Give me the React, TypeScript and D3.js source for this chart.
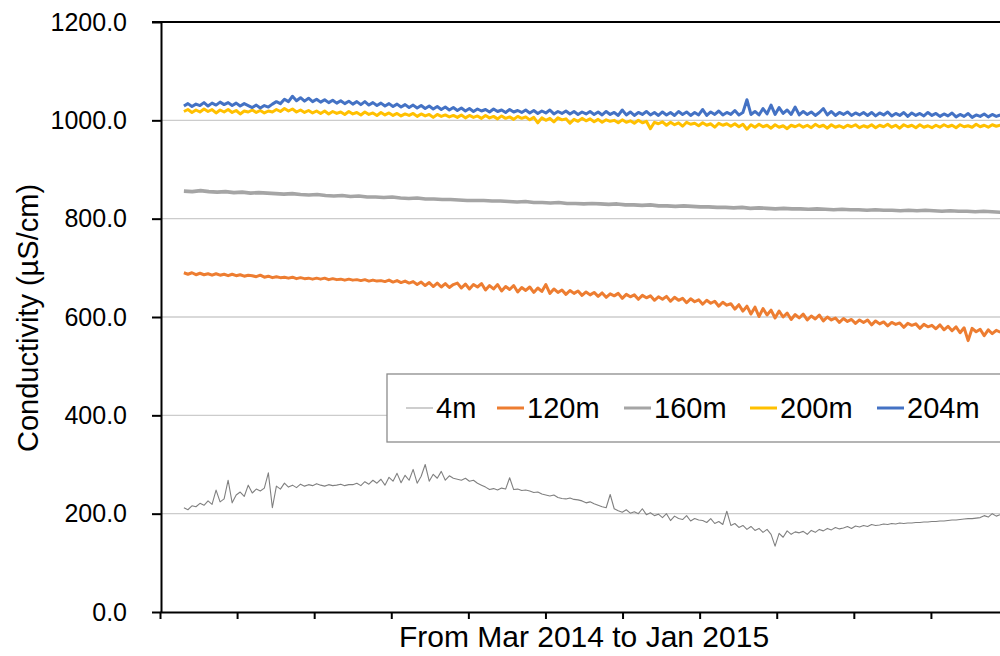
import React, { useRef, useEffect } from 'react';
import * as d3 from 'd3';

// axis + labels
const yTicks = [0, 200, 400, 600, 800, 1000, 1200];
const xTicks = [0, 1, 2, 3, 4, 5, 6, 7, 8, 9, 10, 11];
const xTitle = "From Mar 2014 to Jan 2015";
const yTitle = "Conductivity (µS/cm)";

const seriesNames = ["4m", "120m", "160m", "200m", "204m"];
const seriesColors = ["#808080", "#ED7D31", "#A5A5A5", "#FFC000", "#4472C4"];
const seriesWidths = [1.1, 3, 3.6, 3, 3];

// first and last sample, in month units of the x axis
const dataStart = 0.31;
const dataEnd = 10.9;

// evenly spaced in time
const d4m = [
  212, 208, 216, 214, 221, 217, 226, 219, 248, 224, 230, 268, 222, 238, 244, 235, 258, 242, 250, 246,
  252, 283, 212, 256, 250, 262, 254, 258, 253, 260, 256, 259, 257, 261, 258, 256, 259, 257, 258, 260, 257, 259,
  259, 262, 257, 265, 260, 268, 262, 270, 258, 274, 266, 282, 263, 278, 268, 290, 262, 276, 300, 266, 280, 272, 286, 268, 277, 272, 270, 268, 272, 266, 268, 262,
  258, 254, 249, 251, 248, 252, 250, 273, 249, 250, 247, 248, 246, 243, 244, 240, 238, 236, 238, 233, 231, 230, 232, 229, 228, 226, 222, 224, 220, 217,
  214, 212, 239, 210, 206, 203, 208, 201, 204, 200, 210, 198, 202, 196, 199, 192, 200, 186, 195, 190, 188, 196, 185, 190, 187,
  186, 182, 190, 180, 184, 178, 205, 176, 180, 172, 176, 168, 174, 166, 170, 162, 168, 158, 134, 160, 152, 165, 158, 163, 161,
  164, 158, 166, 162, 168, 165, 170, 167, 172, 169, 171, 174, 170, 175, 173, 176, 174, 178, 176, 177, 179, 178, 180, 179, 181,
  180, 181, 181, 182, 182, 183, 183, 184, 184, 185, 185, 186, 187, 187, 188, 189, 190, 190, 191, 192, 196, 193, 200, 195, 198
];

const d120m = [
  690, 687, 690, 686, 689, 686, 688, 685, 688, 685, 687, 684, 687, 684, 686, 683, 685,
  684, 682, 685, 681, 683, 680, 682, 680, 681, 679, 681, 678, 680, 678, 679, 677, 679,
  677, 679, 676, 678, 676, 677, 675, 677, 675, 676, 674, 676, 673, 675, 673, 674, 672,
  675, 671, 674, 670, 673, 669, 672, 666, 671, 664, 670, 662, 669, 661, 668, 660, 666,
  669, 659, 667, 657, 666, 661, 668, 655, 664, 657, 666, 653, 662, 656, 664, 651, 660,
  654, 661, 650, 659, 652, 666, 648, 657, 650, 655, 646, 654, 648, 653, 644, 651, 645,
  650, 642, 649, 640, 647, 643, 648, 638, 646, 641, 645, 636, 644, 639, 643, 634, 641,
  636, 642, 632, 640, 634, 638, 629, 637, 631, 635, 626, 634, 628, 632, 622, 630, 624,
  627, 616, 625, 612, 622, 606, 620, 601, 617, 604, 614, 598, 612, 600, 608, 595, 605,
  598, 606, 594, 602, 596, 604, 592, 600, 594, 598, 589, 597, 591, 595, 587, 594, 589,
  594, 584, 592, 586, 590, 582, 589, 585, 588, 579, 587, 583, 586, 577, 585, 580, 583,
  576, 584, 574, 581, 572, 580, 568, 578, 552, 577, 570, 575, 562, 574, 566, 573, 569
];

const d160m = [
  856, 855, 857, 855, 854, 855, 853, 854, 852, 853,
  852, 851, 850, 851, 849, 848, 849, 847, 846, 847, 845, 846, 844,
  844, 843, 844, 842, 841, 842, 840, 840, 839, 839, 838, 837, 837,
  837, 836, 836, 835, 834, 835, 833, 833, 832, 833, 831, 831, 830,
  831, 830, 829, 830, 828, 828, 827, 828, 826, 826, 825, 826, 825,
  824, 824, 823, 823, 822, 823, 821, 822, 821, 820, 821, 820, 820,
  819, 820, 819, 818, 819, 818, 818, 817, 818, 817, 817, 816, 817,
  816, 817, 816, 815, 816, 815, 815, 814, 815, 814, 813
];

const d200m = [
  1018, 1022, 1016, 1021, 1017, 1023, 1018, 1022, 1015, 1021, 1017, 1022, 1016, 1020, 1013, 1019, 1017,
  1021, 1016, 1020, 1015, 1019, 1017, 1022, 1018, 1024, 1019, 1023, 1017, 1021, 1016, 1020, 1015, 1019,
  1014, 1019, 1013, 1018, 1014, 1017, 1012, 1018, 1013, 1016, 1011, 1017, 1012, 1015, 1010, 1016, 1011,
  1015, 1010, 1014, 1009, 1013, 1010, 1014, 1008, 1013, 1009, 1012, 1006, 1012, 1008, 1011, 1007, 1010,
  1006, 1011, 1005, 1010, 1006, 1009, 1004, 1010, 1005, 1008, 1003, 1009, 1004, 1007, 1002, 1008, 1004,
  1007, 1001, 1006, 995, 1005, 1000, 1004, 997, 1005, 1001, 1003, 994, 1002, 998, 1004, 999, 1003,
  997, 1002, 996, 1001, 998, 1000, 995, 1001, 996, 999, 994, 1000, 995, 998, 983, 996, 993,
  997, 990, 996, 991, 995, 988, 996, 992, 994, 989, 995, 990, 993, 986, 994, 990, 993,
  988, 993, 987, 992, 982, 991, 986, 992, 987, 990, 984, 991, 986, 989, 983, 990, 987,
  991, 986, 990, 985, 992, 987, 990, 984, 991, 986, 989, 985, 990, 987, 991, 985, 989,
  986, 991, 985, 990, 987, 992, 986, 990, 984, 991, 987, 990, 985, 991, 986, 989, 985,
  990, 986, 991, 987, 990, 985, 991, 987, 989, 986, 992, 987, 990, 986, 991, 988, 990
];

const d204m = [
  1029, 1034, 1028, 1033, 1030, 1036, 1029, 1035, 1031, 1037, 1032, 1036, 1030, 1035, 1029, 1034, 1030,
  1026, 1031, 1025, 1030, 1027, 1033, 1038, 1034, 1043, 1038, 1049, 1040, 1046, 1039, 1045, 1038, 1043,
  1037, 1042, 1036, 1041, 1035, 1040, 1034, 1039, 1033, 1038, 1032, 1038, 1031, 1036, 1030, 1035, 1029,
  1034, 1028, 1033, 1027, 1032, 1026, 1031, 1025, 1030, 1024, 1029, 1023, 1028, 1022, 1027, 1021, 1026,
  1020, 1025, 1019, 1024, 1018, 1023, 1019, 1022, 1017, 1023, 1018, 1021, 1016, 1022, 1017, 1020, 1016,
  1021, 1015, 1020, 1014, 1019, 1015, 1021, 1013, 1018, 1014, 1019, 1013, 1018, 1012, 1017, 1013, 1018,
  1012, 1017, 1011, 1018, 1012, 1016, 1010, 1021, 1011, 1017, 1010, 1016, 1012, 1018, 1011, 1016, 1010,
  1017, 1011, 1016, 1010, 1018, 1012, 1017, 1010, 1016, 1011, 1022, 1010, 1017, 1012, 1019, 1011, 1016,
  1012, 1020, 1011, 1016, 1042, 1012, 1018, 1011, 1024, 1013, 1031, 1012, 1026, 1014, 1021, 1012, 1027,
  1011, 1018, 1012, 1017, 1010, 1016, 1024, 1011, 1018, 1010, 1016, 1012, 1017, 1010, 1015, 1011, 1016,
  1010, 1016, 1009, 1015, 1011, 1017, 1009, 1014, 1010, 1016, 1008, 1015, 1010, 1014, 1009, 1016, 1010,
  1014, 1008, 1013, 1009, 1015, 1007, 1012, 1008, 1014, 1006, 1011, 1008, 1013, 1007, 1012, 1008, 1011
];

const seriesData = [d4m, d120m, d160m, d200m, d204m];

// legend sample positions (left edge of each line sample)
const legendX = [406, 497, 624, 750, 877];

function LineChart() {
  const ref = useRef<SVGSVGElement>(null);
  const W = 1000, H = 656;
  const font = "'Liberation Sans', Arial, sans-serif";

  useEffect(() => {
    const svg = d3.select(ref.current);
    svg.selectAll("*").remove();

    const x = d3.scaleLinear().domain([0, 11]).range([160, 1008]);
    const y = d3.scaleLinear().domain([0, 1200]).range([612, 22]);

    // gridlines
    svg.append("g")
      .selectAll("line")
      .data(yTicks.filter(t => t > 0 && t < 1200))
      .enter()
      .append("line")
      .attr("x1", 161).attr("x2", 1008)
      .attr("y1", d => y(d)).attr("y2", d => y(d))
      .attr("stroke", "#cccccc")
      .attr("stroke-width", 1.3);

    // top border line
    svg.append("line")
      .attr("x1", 152).attr("x2", 1008)
      .attr("y1", y(1200)).attr("y2", y(1200))
      .attr("stroke", "#000").attr("stroke-width", 2);

    // series
    seriesData.forEach((vals, k) => {
      const xi = d3.scaleLinear()
        .domain([0, vals.length - 1])
        .range([x(dataStart), x(dataEnd)]);
      const line = d3.line<number>()
        .x((d, i) => xi(i))
        .y(d => y(d));
      svg.append("path")
        .datum(vals)
        .attr("d", line)
        .attr("fill", "none")
        .attr("stroke", seriesColors[k])
        .attr("stroke-width", seriesWidths[k])
        .attr("stroke-linejoin", "round");
    });

    // y axis
    const yAxis = svg.append("g")
      .attr("transform", "translate(161,0)")
      .call(d3.axisLeft(y)
        .tickValues(yTicks)
        .tickFormat(d3.format(".1f"))
        .tickSize(9)
        .tickSizeOuter(0)
        .tickPadding(25));
    yAxis.selectAll("path, line").attr("stroke", "#000").attr("stroke-width", 2);
    yAxis.selectAll("text")
      .attr("font-family", font)
      .attr("font-size", 25)
      .attr("fill", "#000");

    // x axis
    const xAxis = svg.append("g")
      .attr("transform", "translate(0,612)")
      .call(d3.axisBottom(x)
        .tickValues(xTicks)
        .tickFormat(() => "")
        .tickSize(7)
        .tickSizeOuter(0));
    xAxis.selectAll("path, line").attr("stroke", "#000").attr("stroke-width", 2);

    // titles
    svg.append("text")
      .attr("x", 584).attr("y", 647)
      .attr("text-anchor", "middle")
      .attr("font-family", font)
      .attr("font-size", 30)
      .text(xTitle);

    svg.append("text")
      .attr("transform", "translate(38,318)rotate(-90)")
      .attr("text-anchor", "middle")
      .attr("font-family", font)
      .attr("font-size", 29)
      .text(yTitle);

    // legend
    const lg = svg.append("g");
    lg.append("rect")
      .attr("x", 387).attr("y", 374)
      .attr("width", 640).attr("height", 68)
      .attr("fill", "#fff")
      .attr("stroke", "#8c8c8c")
      .attr("stroke-width", 1.3);
    seriesNames.forEach((name, k) => {
      lg.append("line")
        .attr("x1", legendX[k]).attr("x2", legendX[k] + 27)
        .attr("y1", 408).attr("y2", 408)
        .attr("stroke", k === 0 ? "#b4b4b4" : seriesColors[k])
        .attr("stroke-width", k === 0 ? 1.3 : 3);
      lg.append("text")
        .attr("x", legendX[k] + 30).attr("y", 418)
        .attr("font-family", font)
        .attr("font-size", 29)
        .text(name);
    });
  }, []);

  return (
    <svg ref={ref} width={W} height={H}
      style={{ position: "absolute", left: 0, top: 0, background: "#fff" }}>
    </svg>
  );
}

export default function App() {
  return <LineChart />;
}
